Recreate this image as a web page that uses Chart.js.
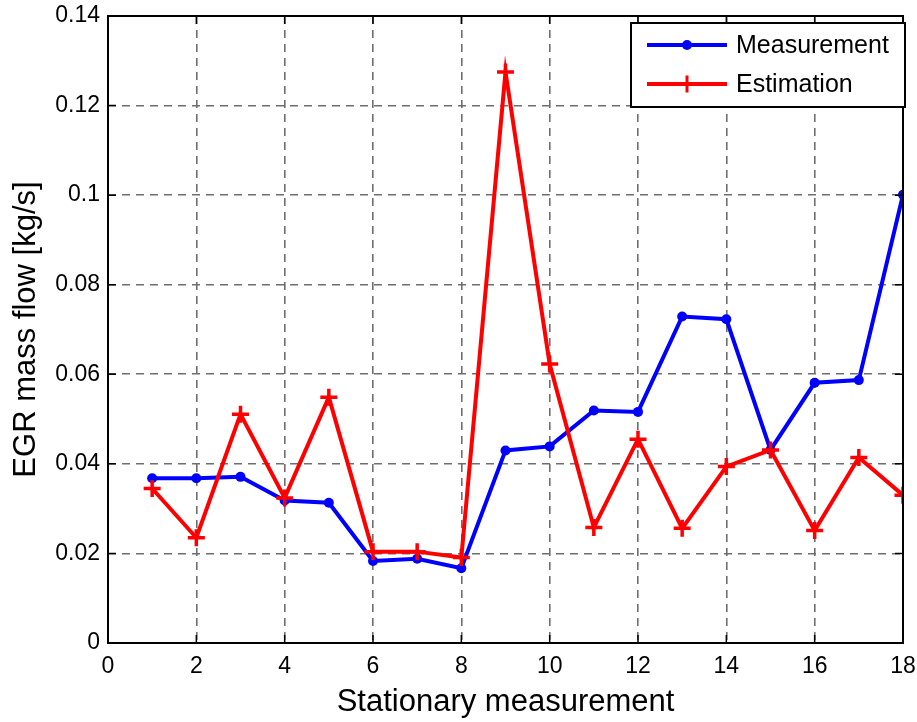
<!DOCTYPE html>
<html>
<head>
<meta charset="utf-8">
<script src="https://cdn.jsdelivr.net/npm/chart.js@4.4.1/dist/chart.umd.min.js"></script>
<style>
  html, body { margin: 0; padding: 0; background: #fff; }
  #wrap { width: 917px; height: 722px; }
</style>
</head>
<body>
<div id="wrap"><canvas id="egr-chart" width="917" height="722"></canvas></div>
<script>
// Data
const stations = [1, 2, 3, 4, 5, 6, 7, 8, 9, 10, 11, 12, 13, 14, 15, 16, 17, 18];
const measurement = [0.0368, 0.0368, 0.0371, 0.0318, 0.0313, 0.0183, 0.0188, 0.0167, 0.0430, 0.0439,
    0.0519, 0.0516, 0.0729, 0.0723, 0.0431, 0.0581, 0.0587, 0.1001];
const estimation = [0.0345, 0.0235, 0.0511, 0.0324, 0.0549, 0.0204, 0.0204, 0.0191, 0.1275, 0.0623,
    0.0258, 0.0455, 0.0256, 0.0394, 0.0431, 0.0251, 0.0414, 0.0330];
const seriesNames = ['Measurement', 'Estimation'];
const xTitle = 'Stationary measurement';
const yTitle = 'EGR mass flow [kg/s]';

const FONT = "'Liberation Sans', Arial, sans-serif";

// MATLAB style box with inward ticks
const boxPlugin = {
    id: 'box',
    afterDatasetsDraw(chart) {
        const { ctx, chartArea: a, scales } = chart;
        ctx.save();
        ctx.strokeStyle = '#000';
        ctx.lineWidth = 1.5;
        ctx.beginPath();
        for (const t of scales.x.ticks) {
            const px = scales.x.getPixelForValue(t.value);
            ctx.moveTo(px, a.bottom); ctx.lineTo(px, a.bottom - 8);
            ctx.moveTo(px, a.top); ctx.lineTo(px, a.top + 8);
        }
        for (const t of scales.y.ticks) {
            const py = scales.y.getPixelForValue(t.value);
            ctx.moveTo(a.left, py); ctx.lineTo(a.left + 8, py);
            ctx.moveTo(a.right, py); ctx.lineTo(a.right - 8, py);
        }
        ctx.stroke();
        ctx.lineWidth = 2;
        ctx.strokeRect(a.left, a.top, a.right - a.left, a.bottom - a.top);
        ctx.restore();
    },
    afterDraw(chart) {
        // legend box in the top right corner
        const { ctx, chartArea: a } = chart;
        const right = a.right + 2, left = right - 274, top = a.top + 7, bottom = a.top + 91;
        ctx.save();
        ctx.fillStyle = '#fff';
        ctx.fillRect(left, top, right - left, bottom - top);
        ctx.strokeStyle = '#000';
        ctx.lineWidth = 2;
        ctx.strokeRect(left, top, right - left, bottom - top);
        chart.data.datasets.forEach((ds, i) => {
            const y = top + 22 + i * 39;
            const x0 = left + 16, x1 = left + 96, xm = (x0 + x1) / 2;
            ctx.strokeStyle = ds.borderColor;
            ctx.lineWidth = ds.borderWidth;
            ctx.beginPath(); ctx.moveTo(x0, y); ctx.lineTo(x1, y); ctx.stroke();
            if (ds.pointStyle === 'cross') {
                ctx.lineWidth = 3;
                ctx.beginPath();
                ctx.moveTo(xm, y - ds.pointRadius); ctx.lineTo(xm, y + ds.pointRadius);
                ctx.stroke();
            } else {
                ctx.fillStyle = ds.borderColor;
                ctx.beginPath(); ctx.arc(xm, y, ds.pointRadius, 0, Math.PI * 2); ctx.fill();
            }
            ctx.fillStyle = '#000';
            ctx.font = '25px ' + FONT;
            ctx.textBaseline = 'middle';
            ctx.fillText(ds.label, left + 105, y + 1);
        });
        ctx.restore();
    }
};

const toPoints = (vals) => stations.map((s, i) => ({ x: s, y: vals[i] }));

const ctx = document.getElementById('egr-chart').getContext('2d');
const chart = new Chart(ctx, {
    type: 'line',
    data: {
        datasets: [
            {
                label: seriesNames[0],
                data: toPoints(measurement),
                borderColor: '#0000ff',
                backgroundColor: '#0000ff',
                borderWidth: 4,
                pointStyle: 'circle',
                pointRadius: 5,
                pointBorderWidth: 0,
                tension: 0,
                order: 1
            },
            {
                label: seriesNames[1],
                data: toPoints(estimation),
                borderColor: '#ff0000',
                backgroundColor: '#ff0000',
                borderWidth: 4,
                pointStyle: 'cross',
                pointRadius: 8.5,
                pointBorderWidth: 3.5,
                tension: 0,
                order: 0
            }
        ]
    },
    options: {
        responsive: false,
        animation: false,
        layout: { padding: { top: 16, right: 14, left: 0, bottom: 0 } },
        plugins: {
            legend: { display: false },
            tooltip: { enabled: false }
        },
        scales: {
            x: {
                type: 'linear',
                min: 0,
                max: 18,
                ticks: {
                    stepSize: 2,
                    color: '#000',
                    padding: 10,
                    maxRotation: 0,
                    font: { family: FONT, size: 23 }
                },
                grid: { color: '#6e6e6e', lineWidth: 1.6, drawTicks: false },
                border: { display: false, dash: [8, 6] },
                title: {
                    display: true,
                    text: xTitle,
                    color: '#000',
                    font: { family: FONT, size: 31 },
                    padding: { top: 0, bottom: 1 }
                },
                afterFit(scale) {
                    scale.height = 79;
                    scale.paddingLeft = 0;
                    scale.paddingRight = 0;
                }
            },
            y: {
                min: 0,
                max: 0.14,
                ticks: {
                    stepSize: 0.02,
                    color: '#000',
                    padding: 8,
                    font: { family: FONT, size: 23 },
                    callback: (v) => String(parseFloat(v.toFixed(2)))
                },
                grid: { color: '#6e6e6e', lineWidth: 1.6, drawTicks: false },
                border: { display: false, dash: [8, 6] },
                title: {
                    display: true,
                    text: yTitle,
                    color: '#000',
                    font: { family: FONT, size: 31 },
                    padding: { top: 8, bottom: 0 }
                },
                afterFit(scale) {
                    scale.width = 108;
                    scale.paddingTop = 0;
                    scale.paddingBottom = 0;
                }
            }
        }
    },
    plugins: [boxPlugin]
});
</script>
</body>
</html>
